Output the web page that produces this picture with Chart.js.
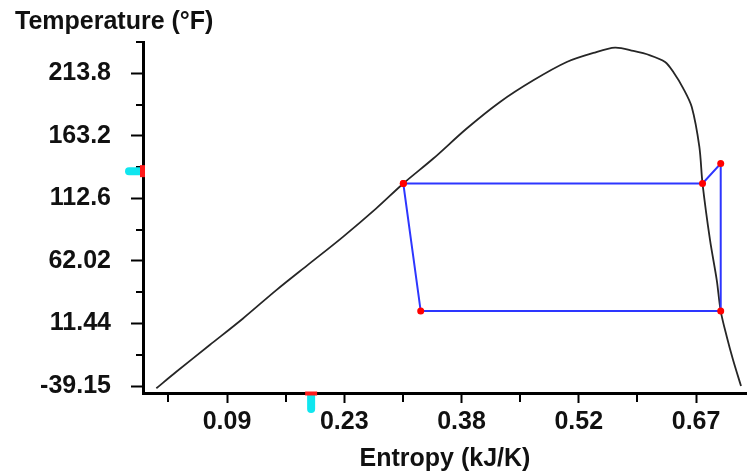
<!DOCTYPE html>
<html>
<head>
<meta charset="utf-8">
<title>T-s diagram</title>
<script src="https://cdn.jsdelivr.net/npm/chart.js@4.4.1/dist/chart.umd.min.js"></script>
<style>
  html, body { margin: 0; padding: 0; background: #fff; }
  #wrap { position: relative; width: 747px; height: 475px; }
</style>
</head>
<body>
<div id="wrap"><canvas id="ts"></canvas></div>
<script>
// Saturation dome: entropy (kJ/K) against temperature (°F)
const domeS = [0.0026, 0.0273, 0.0686, 0.1098, 0.1510, 0.1923, 0.2334, 0.2746, 0.308,
  0.3451, 0.3864, 0.4276, 0.4688, 0.5101, 0.5430, 0.5698, 0.5925, 0.6131, 0.6317,
  0.6419, 0.6543, 0.6647, 0.6741, 0.678, 0.6873, 0.6956, 0.7005, 0.7080, 0.7158, 0.7256];
const domeT = [-41.0, -27.6, -6.0, 15.5, 38.4, 60.0, 81.5, 104.5, 124.6,
  144.8, 169.1, 190.6, 208.1, 222.9, 230.2, 234.5, 231.8, 228.3, 222.9,
  214.8, 201.4, 186.5, 154.2, 124.6, 78.8, 46.5, 21.45, 0.7, -18.1, -39.2];

// Cycle states, closed back onto the first one
const cycleS = [0.308, 0.678, 0.7005, 0.7005, 0.3295, 0.308];
const cycleT = [124.6, 124.6, 140.8, 21.45, 21.45, 124.6];

const xTicks = [0.09, 0.235, 0.38, 0.525, 0.67];
const xTickLabels = ['0.09', '0.23', '0.38', '0.52', '0.67'];
const yTicks = [-39.15, 11.43, 62.01, 112.59, 163.17, 213.75];
const yTickLabels = ['-39.15', '11.44', '62.02', '112.6', '163.2', '213.8'];

const xRange = [-0.0139, 0.733];
const yRange = [-44.8, 239.05];

// slider handles sitting on each axis
const sCursor = 0.194;
const tCursor = 134.6;

const FONT = { family: "'Liberation Sans', Arial, sans-serif", size: 25, weight: 'bold' };
const INK = '#111';

function halfSteps(vals, lo, hi) {
  const step = vals[1] - vals[0];
  const out = [vals[0] - step / 2];
  vals.forEach(v => out.push(v + step / 2));
  return out.filter(v => v >= lo - 1e-6 && v <= hi + 1e-6);
}

// minor ticks and the two axis sliders
const axisExtras = {
  id: 'axisExtras',
  afterDraw(chart) {
    const { ctx, chartArea: a, scales: { x, y } } = chart;
    ctx.save();
    ctx.strokeStyle = '#000';
    ctx.lineWidth = 2;
    ctx.beginPath();
    halfSteps(xTicks, xRange[0], xRange[1]).forEach(v => {
      const px = Math.round(x.getPixelForValue(v));
      ctx.moveTo(px, a.bottom);
      ctx.lineTo(px, a.bottom + 9);
    });
    halfSteps(yTicks, yRange[0], yRange[1]).forEach(v => {
      const py = Math.round(y.getPixelForValue(v));
      ctx.moveTo(a.left - 7, py);
      ctx.lineTo(a.left, py);
    });
    ctx.stroke();

    const cx = x.getPixelForValue(sCursor);
    ctx.fillStyle = '#10e6ef';
    ctx.beginPath();
    ctx.roundRect(cx - 4, a.bottom, 8, 20, [0, 0, 4, 4]);
    ctx.fill();
    ctx.fillStyle = '#ff1a1a';
    ctx.fillRect(cx - 6, a.bottom - 1.5, 12, 4);

    const cy = y.getPixelForValue(tCursor);
    ctx.fillStyle = '#10e6ef';
    ctx.beginPath();
    ctx.roundRect(a.left - 18, cy - 4, 16, 8, [4, 0, 0, 4]);
    ctx.fill();
    ctx.fillStyle = '#ff1a1a';
    ctx.fillRect(a.left - 3, cy - 6, 5, 12);
    ctx.restore();
  }
};

const toPoints = (xs, ys) => xs.map((v, i) => ({ x: v, y: ys[i] }));

new Chart(document.getElementById('ts'), {
  type: 'scatter',
  data: {
    datasets: [
      {
        data: toPoints(cycleS, cycleT),
        showLine: true,
        borderColor: '#2d36ff',
        borderWidth: 2,
        tension: 0,
        pointRadius: 3.5,
        pointBackgroundColor: '#ff0000',
        pointBorderWidth: 0
      },
      {
        data: toPoints(domeS, domeT),
        showLine: true,
        borderColor: '#262626',
        borderWidth: 1.8,
        pointRadius: 0,
        tension: 0.3
      }
    ]
  },
  options: {
    responsive: true,
    maintainAspectRatio: false,
    animation: false,
    layout: { autoPadding: false, padding: { left: 15, right: 0, top: 0, bottom: 0 } },
    plugins: {
      legend: { display: false },
      tooltip: { enabled: false },
      title: {
        display: true,
        text: 'Temperature (°F)',
        align: 'start',
        color: INK,
        font: FONT,
        padding: { top: 7, bottom: 5 }
      }
    },
    scales: {
      x: {
        type: 'linear',
        min: xRange[0],
        max: xRange[1],
        afterBuildTicks: s => { s.ticks = xTicks.map(v => ({ value: v })); },
        afterFit: s => { s.height = 82; },
        ticks: {
          callback: (v, i) => xTickLabels[i],
          color: INK,
          font: FONT,
          padding: 4,
          maxRotation: 0,
          autoSkip: false
        },
        grid: { drawOnChartArea: false, tickLength: 10, tickWidth: 2, tickColor: '#000' },
        border: { color: '#000', width: 3 },
        title: {
          display: true,
          text: 'Entropy (kJ/K)',
          color: INK,
          font: FONT,
          padding: { top: 0, bottom: 1 }
        }
      },
      y: {
        type: 'linear',
        min: yRange[0],
        max: yRange[1],
        afterBuildTicks: s => { s.ticks = yTicks.map(v => ({ value: v })); },
        afterFit: s => { s.width = 128; },
        ticks: {
          callback: (v, i) => yTickLabels[i],
          color: INK,
          font: FONT,
          padding: 20,
          autoSkip: false
        },
        grid: { drawOnChartArea: false, tickLength: 12, tickWidth: 2, tickColor: '#000' },
        border: { color: '#000', width: 3 }
      }
    }
  },
  plugins: [axisExtras]
});
</script>
</body>
</html>
